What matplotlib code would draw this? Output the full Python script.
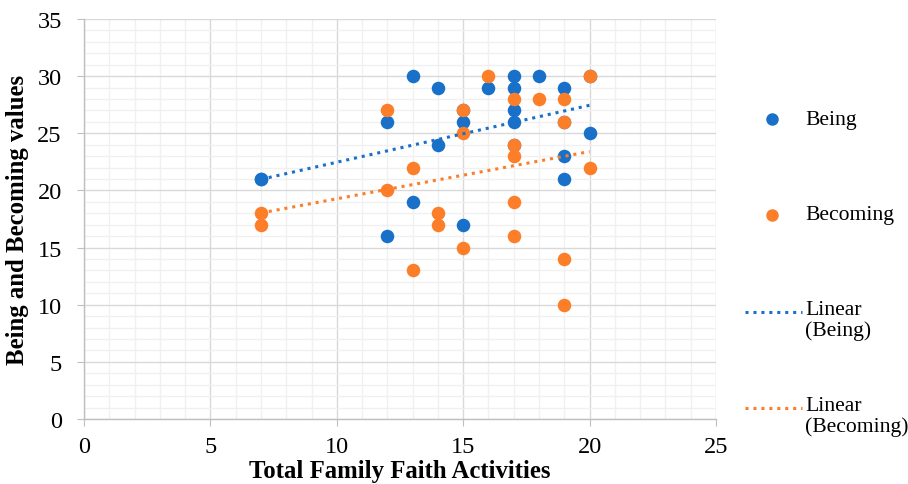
import matplotlib
matplotlib.use("Agg")
import matplotlib.pyplot as plt
from matplotlib.lines import Line2D
import numpy as np

plt.rcParams['font.family'] = ['Liberation Serif', 'DejaVu Serif']

being_x = [7, 7, 12, 12, 13, 13, 14, 14, 15, 15, 15, 16, 17, 17, 17, 17, 17, 18, 19, 19, 19, 19, 20, 20]
being_y = [21, 21, 26, 16, 30, 19, 29, 24, 27, 26, 17, 29, 30, 29, 27, 26, 24, 30, 29, 26, 23, 21, 30, 25]

becoming_x = [7, 7, 12, 12, 13, 13, 14, 14, 15, 15, 15, 16, 17, 17, 17, 17, 17, 18, 19, 19, 19, 19, 20, 20]
becoming_y = [18, 17, 27, 20, 22, 13, 18, 17, 27, 25, 15, 30, 28, 24, 23, 19, 16, 28, 28, 26, 14, 10, 30, 22]

series_names = ["Being", "Becoming"]
trend_names = ["Linear\n(Being)", "Linear\n(Becoming)"]
x_ticks = [0, 5, 10, 15, 20, 25]
y_ticks = [0, 5, 10, 15, 20, 25, 30, 35]

BLUE = "#1870C8"
ORANGE = "#FC7E28"
W, H = 908, 485

fig = plt.figure(figsize=(W / 100, H / 100), dpi=100)
ax = fig.add_axes([84 / W, 1 - 420 / H, (716 - 84) / W, 400 / H])

ax.set_xlim(0, 25)
ax.set_ylim(0, 35)
ax.set_xticks(x_ticks)
ax.set_yticks(y_ticks)
ax.set_xticks(np.arange(0, 26, 1), minor=True)
ax.set_yticks(np.arange(0, 36, 1), minor=True)
ax.grid(which='minor', color='#f0f0f0', linewidth=1.0, zorder=0)
ax.grid(which='major', color='#d9d9d9', linewidth=1.0, zorder=0)
ax.set_axisbelow(True)

for s in ['top', 'right']:
    ax.spines[s].set_visible(False)
for s in ['left', 'bottom']:
    ax.spines[s].set_color('#bfbfbf')
    ax.spines[s].set_linewidth(1.0)
ax.tick_params(which='major', direction='out', length=5, color='#bfbfbf', labelsize=17.5)
ax.tick_params(which='minor', length=0)
ax.tick_params(axis='x', pad=7)
ax.tick_params(axis='y', pad=11)

ax.scatter(being_x, being_y, s=95, color=BLUE, zorder=3, linewidths=0)
ax.scatter(becoming_x, becoming_y, s=95, color=ORANGE, zorder=4, linewidths=0)

for xs, ys, c in [(being_x, being_y, BLUE), (becoming_x, becoming_y, ORANGE)]:
    m, b = np.polyfit(xs, ys, 1)
    xx = np.array([min(xs), max(xs)])
    ax.plot(xx, m * xx + b, color=c, linestyle=(0, (1, 1.6)), linewidth=2.2, zorder=5)

ax.set_xlabel("Total Family Faith Activities", fontsize=17.8, fontweight='bold', va='center')
ax.xaxis.set_label_coords(0.5, (420 - 472) / 400)
ax.set_ylabel("Being and Becoming values", fontsize=17.8, fontweight='bold', va='center')
ax.yaxis.set_label_coords((17 - 84) / 632, 0.5)

def fx(px):
    return px / W

def fy(py):
    return 1 - py / H

# legend (manual)
for name, c, py in [(series_names[0], BLUE, 120), (series_names[1], ORANGE, 216)]:
    fig.add_artist(Line2D([fx(772)], [fy(py)], marker='o', markersize=9, color=c,
                          markeredgewidth=0, linestyle='none', transform=fig.transFigure))
    fig.text(fx(805), fy(py), name, fontsize=15.6, va='center', ha='left')

for name, c, py in [(trend_names[0], BLUE, 313), (trend_names[1], ORANGE, 409)]:
    fig.add_artist(Line2D([fx(745), fx(802)], [fy(py), fy(py)], color=c,
                          linestyle=(0, (1, 1.6)), linewidth=2.2, transform=fig.transFigure))
    fig.text(fx(805), fy(py - 12), name, fontsize=15.6, va='top', ha='left', linespacing=1.08)

fig.savefig("out.png", dpi=100)
